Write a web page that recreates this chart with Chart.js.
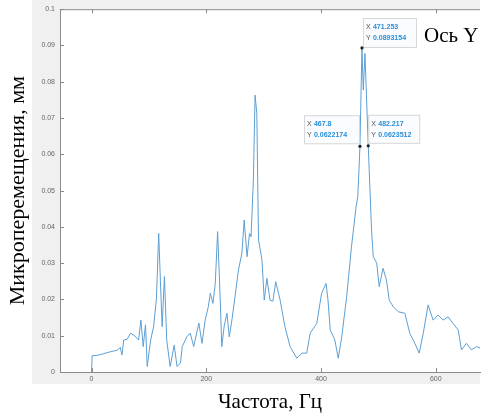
<!DOCTYPE html>
<html>
<head>
<meta charset="utf-8">
<script src="https://cdn.jsdelivr.net/npm/chart.js@4"></script>
<style>
  html, body { margin: 0; padding: 0; background: #fff; }
  canvas { display: block; }
</style>
</head>
<body>
<canvas id="spectrum-chart" width="485" height="415"></canvas>
<script>
// Frequency, Hz
const freq = [
    0, 1, 10, 20, 33, 45, 50, 53, 56, 62, 68, 75, 82, 86, 90, 94, 97, 103, 108, 113,
    117, 120, 123, 127, 131, 137, 144, 149, 155, 158, 166, 172, 178, 187, 192.5, 198,
    203.5, 207, 211.6, 215.6, 219.7, 223, 227, 231, 236, 240, 244.6, 250, 256, 262,
    266, 271, 275.3, 278, 282, 285, 288, 291, 297, 301, 305.6, 311, 316, 321, 328.7,
    337, 346, 357.7, 366.4, 375, 381, 392.5, 401, 408.7, 412, 416, 424, 430, 436,
    444.6, 453, 461, 464, 467.8, 471.253, 473.6, 476.5, 482.217, 488, 491, 497, 501.4,
    508, 514, 518.8, 525.8, 534.5, 546, 554.8, 563.5, 571, 578, 586.6, 595.3, 604,
    612.7, 621.4, 630, 639, 644.7, 653.4, 662, 671, 680
];
// Micro-displacement, mm
const amp = [
    0, 0.0045, 0.0046, 0.0050, 0.0056, 0.0060, 0.0068, 0.0047, 0.0088, 0.0090, 0.0107, 0.0100, 0.0088, 0.0143, 0.0070, 0.0130, 0.0015, 0.0088, 0.0124, 0.0200,
    0.0382, 0.0250, 0.0125, 0.0263, 0.0088, 0.0015, 0.0074, 0.0015, 0.0025, 0.0070, 0.0097, 0.0107, 0.0070, 0.0135, 0.0079, 0.0143,
    0.0180, 0.0217, 0.0189, 0.0244, 0.0387, 0.0253, 0.0070, 0.0125, 0.0162, 0.0097, 0.0143, 0.0207, 0.0281, 0.0327,
    0.0419, 0.0318, 0.0382, 0.0373, 0.0529, 0.0763, 0.0713, 0.0364, 0.0309, 0.0198, 0.0258, 0.0198, 0.0195, 0.0249, 0.0198,
    0.0125, 0.0070, 0.0038, 0.0052, 0.0052, 0.0107, 0.0134, 0.0217, 0.0244, 0.0200, 0.0116, 0.0088, 0.0038, 0.0097,
    0.0207, 0.0345, 0.0455, 0.0483, 0.0622174, 0.0893154, 0.0777, 0.0878, 0.0623512, 0.0391, 0.0318, 0.0300, 0.0235,
    0.0286, 0.0253, 0.0198, 0.0180, 0.0166, 0.0162, 0.0106, 0.0079, 0.0052, 0.0106, 0.0185, 0.0143, 0.0157,
    0.0143, 0.0152, 0.0134, 0.0116, 0.0061, 0.0079, 0.0061, 0.0070, 0.0065
];

const xTicks = [0, 200, 400, 600];
const yTicks = [0, 0.01, 0.02, 0.03, 0.04, 0.05, 0.06, 0.07, 0.08, 0.09, 0.1];

// data tips (MATLAB datatips)
const tipX = [471.253, 467.8, 482.217];
const tipY = [0.0893154, 0.0622174, 0.0623512];

const serif = '"Liberation Serif", "Times New Roman", serif';
const sans = '"Liberation Sans", Arial, sans-serif';

const figurePlugin = {
    id: 'figure',
    beforeDraw(chart) {
        const ctx = chart.ctx;
        const area = chart.chartArea;
        ctx.save();
        ctx.fillStyle = '#ffffff';
        ctx.fillRect(0, 0, chart.width, chart.height);
        ctx.fillStyle = '#f0f0f0';
        ctx.fillRect(32, 0, 448, 384);
        ctx.fillStyle = '#ffffff';
        ctx.fillRect(area.left, area.top, area.right - area.left, area.bottom - area.top);
        ctx.restore();
    },
    afterDraw(chart) {
        const ctx = chart.ctx;
        const area = chart.chartArea;
        const xs = chart.scales.x;
        const ys = chart.scales.y;
        ctx.save();

        // top box line + inward ticks
        ctx.strokeStyle = '#8a8a8a';
        ctx.lineWidth = 1;
        ctx.beginPath();
        ctx.moveTo(area.left, area.top + 0.5);
        ctx.lineTo(area.right, area.top + 0.5);
        xTicks.forEach(v => {
            const px = Math.round(xs.getPixelForValue(v)) + 0.5;
            ctx.moveTo(px, area.bottom);
            ctx.lineTo(px, area.bottom - 4);
            ctx.moveTo(px, area.top);
            ctx.lineTo(px, area.top + 4);
        });
        yTicks.forEach(v => {
            const py = Math.round(ys.getPixelForValue(v)) + 0.5;
            ctx.moveTo(area.left, py);
            ctx.lineTo(area.left + 4, py);
        });
        ctx.stroke();

        // datatips
        const boxes = [
            { dx: 1, dy: -30, w: 53, h: 29 },
            { dx: -56, dy: -31, w: 55, h: 28 },
            { dx: 0, dy: -31, w: 51, h: 28 }
        ];
        tipX.forEach((tx, i) => {
            const px = xs.getPixelForValue(tx);
            const py = ys.getPixelForValue(tipY[i]);
            const b = boxes[i];
            const bx = px + b.dx;
            const by = py + b.dy;
            ctx.fillStyle = 'rgba(250,252,255,0.95)';
            ctx.strokeStyle = '#d6d6d6';
            ctx.fillRect(bx, by, b.w, b.h);
            ctx.strokeRect(bx + 0.5, by + 0.5, b.w, b.h);
            ctx.font = '7px ' + sans;
            ctx.textBaseline = 'middle';
            ctx.textAlign = 'left';
            ctx.fillStyle = '#555';
            ctx.fillText('X', bx + 3, by + 9);
            ctx.fillText('Y', bx + 3, by + 20);
            ctx.font = 'bold 7px ' + sans;
            ctx.fillStyle = '#2a8fd8';
            ctx.fillText(String(tx), bx + 10, by + 9);
            ctx.fillText(String(tipY[i]), bx + 10, by + 20);
            ctx.fillStyle = '#222';
            ctx.beginPath();
            ctx.arc(px, py, 1.6, 0, Math.PI * 2);
            ctx.fill();
        });

        ctx.fillStyle = '#000';
        ctx.font = '21px ' + serif;
        ctx.textAlign = 'left';
        ctx.textBaseline = 'alphabetic';
        ctx.fillText('Ось Y', 424, 42);
        ctx.restore();
    }
};

const spectrumChart = new Chart(document.getElementById('spectrum-chart').getContext('2d'), {
    type: 'line',
    data: {
        datasets: [{
            label: 'Микроперемещения',
            data: freq.map((f, i) => ({ x: f, y: amp[i] })),
            borderColor: '#5d9fd3',
            borderWidth: 1,
            pointRadius: 0,
            tension: 0,
            fill: false
        }]
    },
    options: {
        responsive: false,
        animation: false,
        devicePixelRatio: 1,
        layout: {
            padding: { top: 9, right: 5, left: 0, bottom: 0 }
        },
        scales: {
            x: {
                type: 'linear',
                min: -55,
                max: 677,
                afterFit(scale) { scale.height = 43; },
                afterBuildTicks(scale) { scale.ticks = xTicks.map(v => ({ value: v })); },
                grid: { display: false, drawTicks: false },
                border: { display: true, color: '#8a8a8a', width: 1 },
                ticks: {
                    padding: 3,
                    color: '#666',
                    font: { family: sans, size: 7 },
                    maxRotation: 0
                },
                title: {
                    display: true,
                    text: 'Частота, Гц',
                    color: '#000',
                    font: { family: serif, size: 21 },
                    padding: { top: 0, bottom: 0 }
                }
            },
            y: {
                type: 'linear',
                min: 0,
                max: 0.1,
                afterFit(scale) { scale.width = 60; },
                afterBuildTicks(scale) { scale.ticks = yTicks.map(v => ({ value: v })); },
                grid: { display: false, drawTicks: false },
                border: { display: true, color: '#8a8a8a', width: 1 },
                ticks: {
                    padding: 5,
                    color: '#666',
                    font: { family: sans, size: 7 },
                    callback: v => String(+v.toFixed(2))
                },
                title: {
                    display: true,
                    text: 'Микроперемещения, мм',
                    color: '#000',
                    font: { family: serif, size: 22 },
                    padding: { top: 5, bottom: 0 }
                }
            }
        },
        plugins: {
            legend: { display: false },
            tooltip: { enabled: false }
        }
    },
    plugins: [figurePlugin]
});
</script>
</body>
</html>
